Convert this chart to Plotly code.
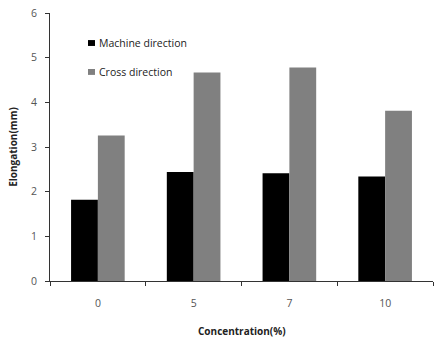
import plotly.graph_objects as go

# Elongation by filler concentration, machine vs cross direction
concentrations = ["0", "5", "7", "10"]
machine_direction = [1.82, 2.44, 2.41, 2.34]
cross_direction = [3.26, 4.67, 4.78, 3.81]
series_names = ["Machine direction", "Cross direction"]
series_colors = ["#000000", "#808080"]
y_ticks = [0, 1, 2, 3, 4, 5, 6]

FONT = "Open Sans, DejaVu Sans, sans-serif"

fig = go.Figure()
for name, vals, col in zip(series_names, [machine_direction, cross_direction], series_colors):
    fig.add_trace(go.Bar(x=concentrations, y=vals, name=name,
                         marker=dict(color=col, line=dict(width=0)),
                         showlegend=False))

# Compact legend: small square swatches with labels
swatches = [(0.899, 0.877, 0.888), (0.791, 0.769, 0.780)]
for (y1, y0, yt), name, col in zip(swatches, series_names, series_colors):
    fig.add_shape(type="rect", xref="paper", yref="paper",
                  x0=0.0992, x1=0.1175, y0=y0, y1=y1,
                  fillcolor=col, line=dict(width=0))
    fig.add_annotation(xref="paper", yref="paper", x=0.1227, y=yt,
                       xanchor="left", yanchor="middle", showarrow=False,
                       text=name, font=dict(family=FONT, size=10.5, color="#222222"))

# X-axis title placed below the tick labels
fig.add_annotation(xref="paper", yref="paper", x=0.5, y=-0.187,
                   xanchor="center", yanchor="middle", showarrow=False,
                   text="<b>Concentration(%)</b>",
                   font=dict(family=FONT, size=10, color="#222222"))

fig.update_layout(
    width=434, height=339,
    margin=dict(l=50, r=1, t=13, b=58),
    paper_bgcolor="white", plot_bgcolor="white",
    barmode="group", bargap=0.44, bargroupgap=0,
    font=dict(family=FONT, size=10, color="#444444"),
)
fig.update_xaxes(
    type="category", showline=True, linecolor="#333333", linewidth=1,
    ticks="outside", ticklen=4, tickcolor="#333333", tickson="boundaries",
    ticklabelstandoff=12, showgrid=False, zeroline=False,
    tickfont=dict(family=FONT, size=10.5, color="#555555"),
)
fig.update_yaxes(
    range=[0, 6], tickvals=y_ticks, showline=True, linecolor="#333333", linewidth=1,
    ticks="outside", ticklen=4, tickcolor="#333333", showgrid=False, zeroline=False,
    ticklabelstandoff=6,
    tickfont=dict(family=FONT, size=10.5, color="#555555"),
    title=dict(text="<b>Elongation(mm)</b>", standoff=11,
               font=dict(family=FONT, size=10, color="#222222")),
)

fig.write_html("out.html")
